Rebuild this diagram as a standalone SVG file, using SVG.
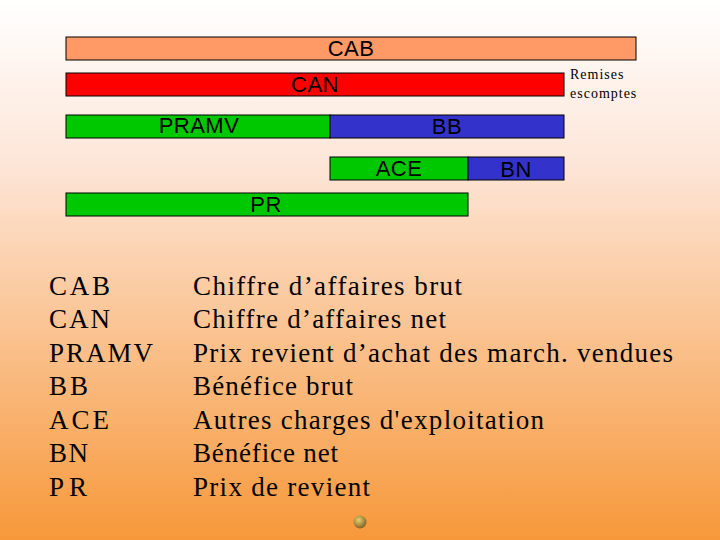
<svg xmlns="http://www.w3.org/2000/svg" width="720" height="540" viewBox="0 0 720 540">
<defs>
<linearGradient id="bg" x1="0" y1="0" x2="0" y2="1">
<stop offset="0" stop-color="#ffffff"/>
<stop offset="0.3" stop-color="#fde6d8"/>
<stop offset="1" stop-color="#f7983a"/>
</linearGradient>
<radialGradient id="dot" cx="0.4" cy="0.35" r="0.7">
<stop offset="0" stop-color="#e8d070"/>
<stop offset="1" stop-color="#7a5a20"/>
</radialGradient>
<style>
.b{stroke:#000;stroke-width:1}
.t{font-family:"Liberation Sans",Arial,sans-serif;font-size:22px;text-anchor:middle;fill:#000;letter-spacing:0.5px}
.l{font-family:"Liberation Serif","Times New Roman",serif;font-size:27px;fill:#000}
.s{font-family:"Liberation Serif","Times New Roman",serif;font-size:14px;fill:#000;letter-spacing:1px}
</style>
</defs>
<rect width="720" height="540" fill="url(#bg)"/>
<g id="CAB"><rect class="b" x="66" y="37" width="570" height="23" fill="#ff9966"/><text class="t" x="351" y="56">CAB</text></g>
<g id="CAN"><rect class="b" x="66" y="73" width="498" height="23" fill="#ff0000"/><text class="t" x="315" y="92">CAN</text></g>
<g id="remises"><text class="s" x="570" y="79">Remises</text><text class="s" x="570" y="98">escomptes</text></g>
<g id="PRAMV"><rect class="b" x="66" y="115" width="264" height="23" fill="#00c800"/><text class="t" x="199" y="133">PRAMV</text></g>
<g id="BB"><rect class="b" x="330" y="115" width="234" height="23" fill="#3333cc"/><text class="t" x="447" y="134">BB</text></g>
<g id="ACE"><rect class="b" x="330" y="157" width="138" height="23" fill="#00c800"/><text class="t" x="399" y="176">ACE</text></g>
<g id="BN"><rect class="b" x="468" y="157" width="96" height="23" fill="#3333cc"/><text class="t" x="516" y="177">BN</text></g>
<g id="PR"><rect class="b" x="66" y="193" width="402" height="23" fill="#00c800"/><text class="t" x="266" y="212">PR</text></g>
<g id="legend">
<text class="l" x="49" y="295" textLength="61" lengthAdjust="spacing">CAB</text><text class="l" x="193" y="295" textLength="269" lengthAdjust="spacing">Chiffre d’affaires brut</text>
<text class="l" x="49" y="328" textLength="61" lengthAdjust="spacing">CAN</text><text class="l" x="193" y="328" textLength="253" lengthAdjust="spacing">Chiffre d’affaires net</text>
<text class="l" x="49" y="362" textLength="104" lengthAdjust="spacing">PRAMV</text><text class="l" x="193" y="362" textLength="480" lengthAdjust="spacing">Prix revient d’achat des march. vendues</text>
<text class="l" x="49" y="395" textLength="39" lengthAdjust="spacing">BB</text><text class="l" x="193" y="395" textLength="160" lengthAdjust="spacing">Bénéfice brut</text>
<text class="l" x="49" y="429" textLength="60" lengthAdjust="spacing">ACE</text><text class="l" x="193" y="429" textLength="351" lengthAdjust="spacing">Autres charges d'exploitation</text>
<text class="l" x="49" y="462" textLength="39" lengthAdjust="spacing">BN</text><text class="l" x="193" y="462" textLength="145" lengthAdjust="spacing">Bénéfice net</text>
<text class="l" x="49" y="496" textLength="38" lengthAdjust="spacing">PR</text><text class="l" x="193" y="496" textLength="177" lengthAdjust="spacing">Prix de revient</text>
</g>
<circle cx="360" cy="522" r="6.5" fill="url(#dot)"/>
</svg>
